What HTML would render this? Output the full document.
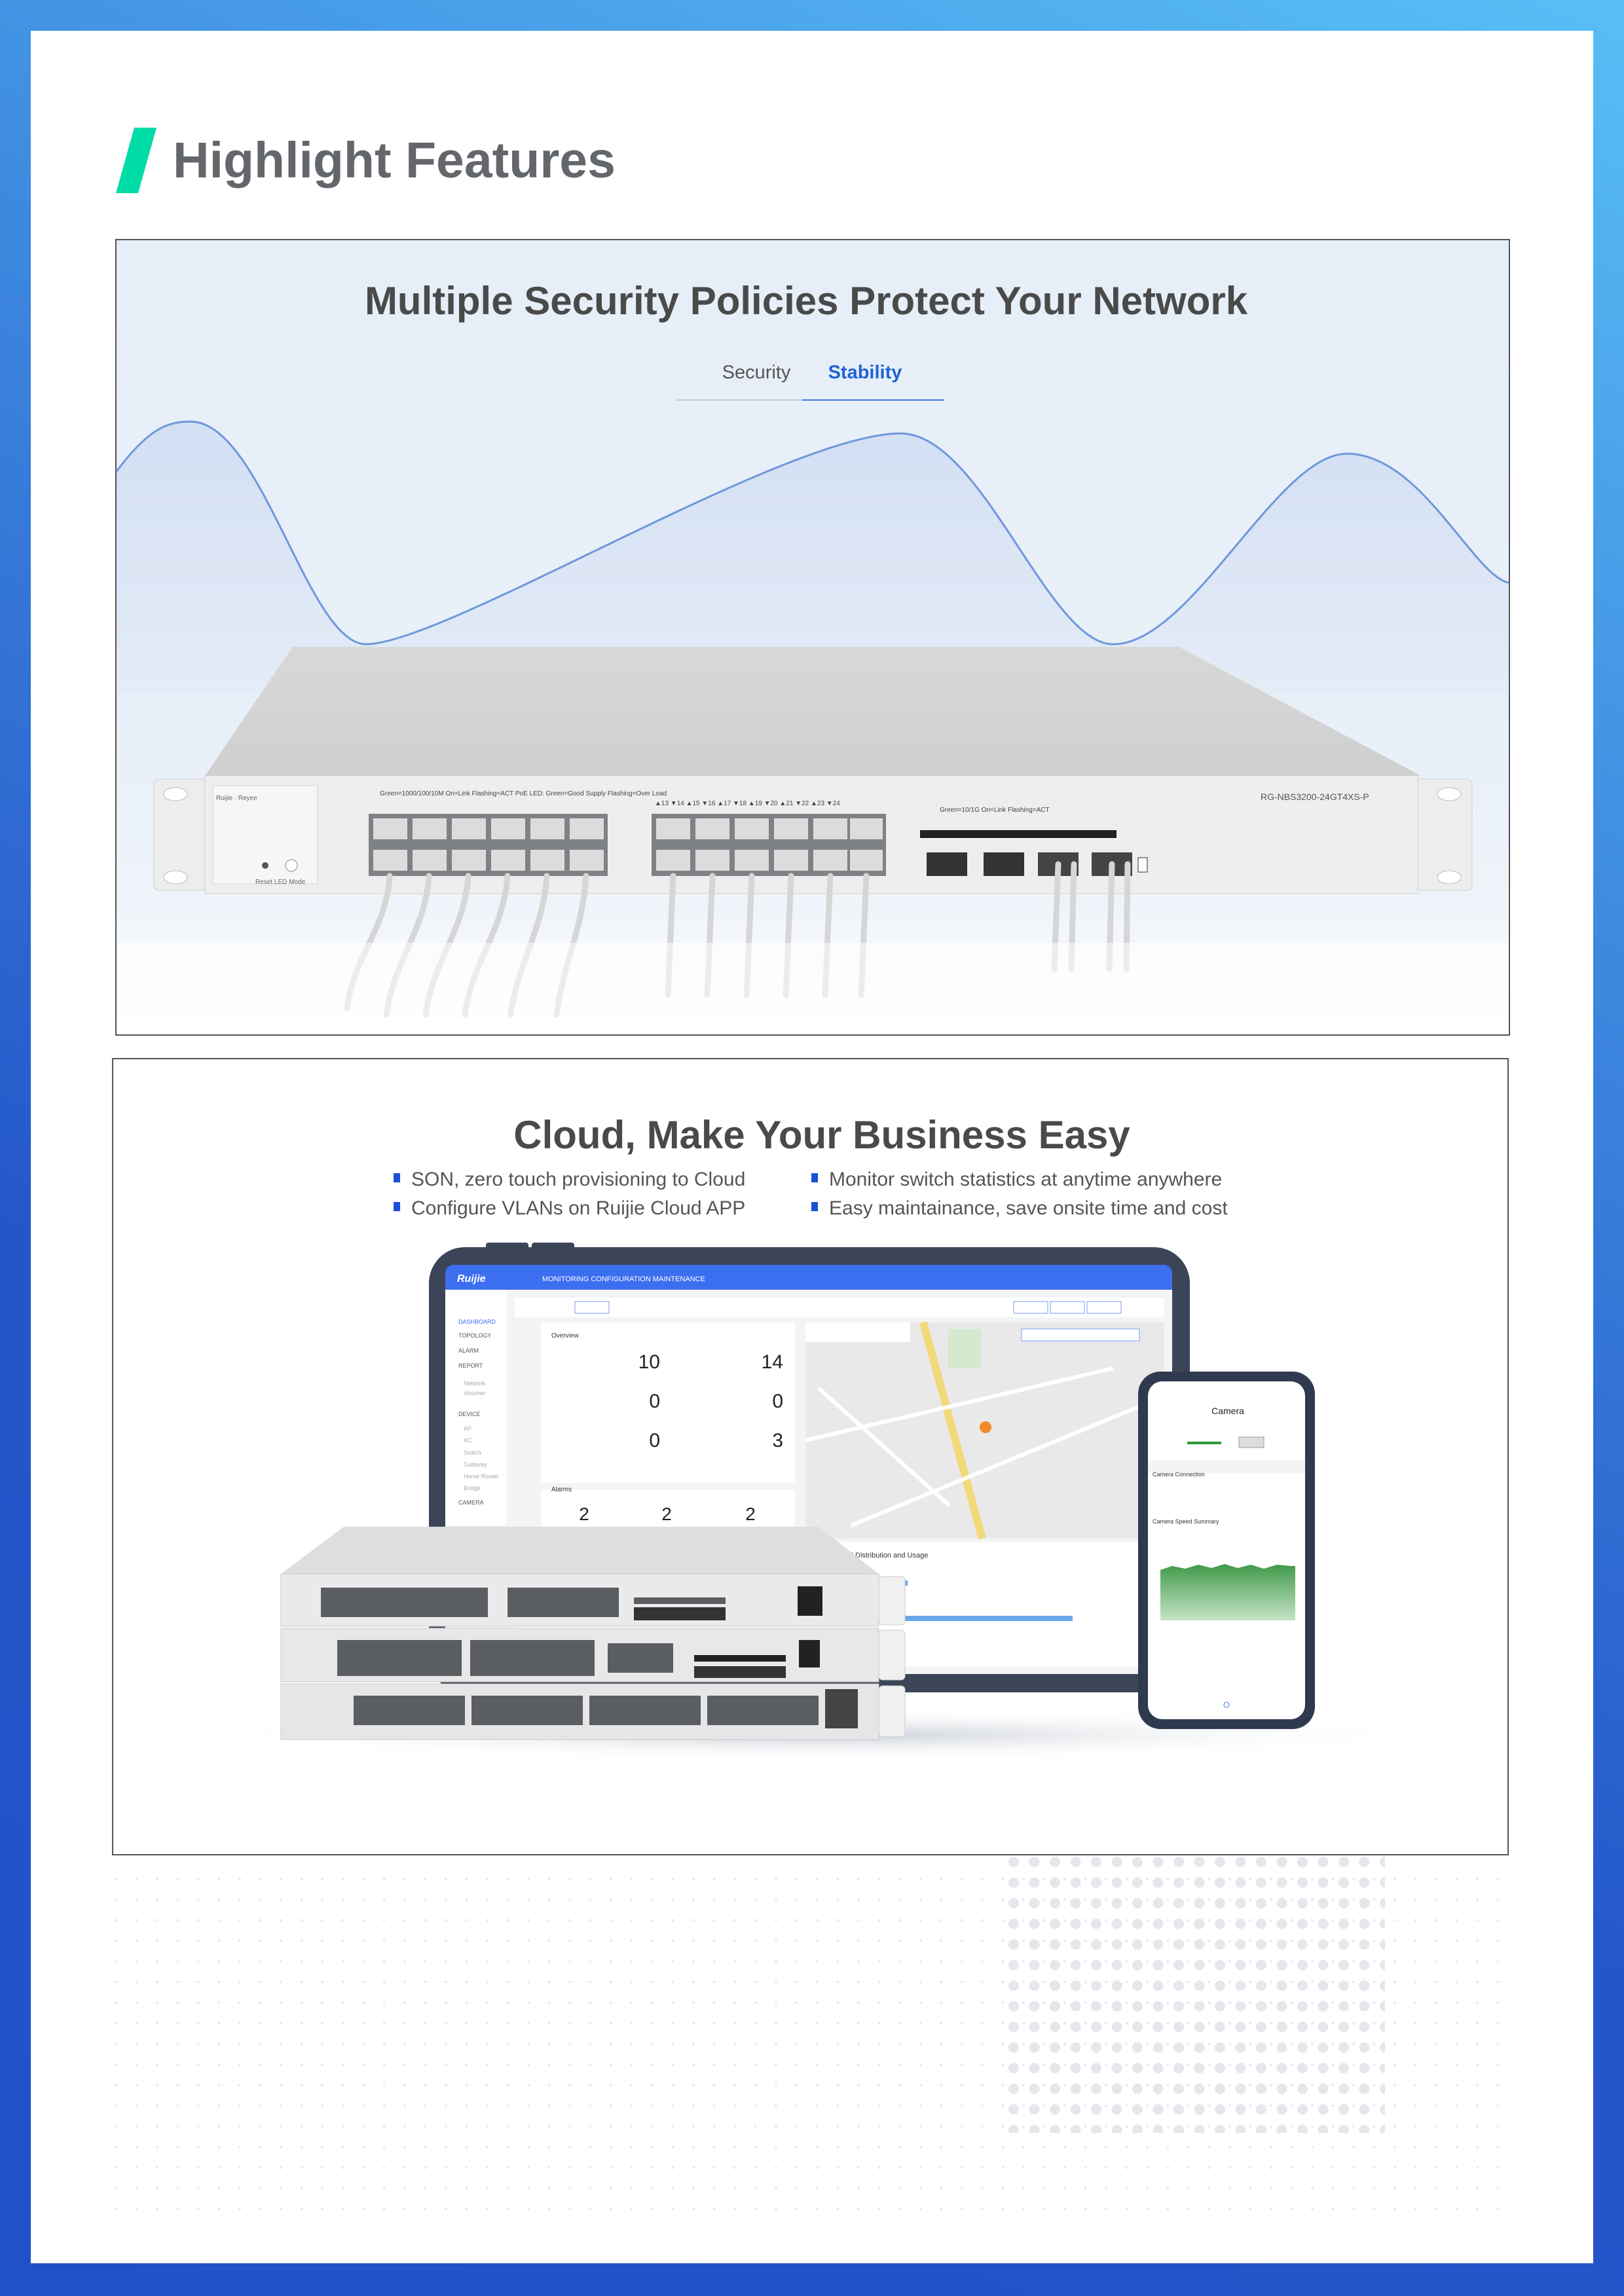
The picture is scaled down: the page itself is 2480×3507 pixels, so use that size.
<!DOCTYPE html>
<html><head><meta charset="utf-8">
<style>
html,body{margin:0;padding:0;}
body{width:2480px;height:3507px;position:relative;overflow:hidden;font-family:"Liberation Sans",sans-serif;
background:linear-gradient(205deg,#58bff6 0%,#3f8be0 30%,#2456c9 65%,#2250c8 100%);}
.inner{position:absolute;left:47px;top:47px;width:2386px;height:3410px;background:#fff;}
svg{position:absolute;left:0;top:0;}
</style></head><body>
<div class="inner"></div>
<svg width="2480" height="3507" viewBox="0 0 2480 3507" xmlns="http://www.w3.org/2000/svg">
<defs>
<linearGradient id="p1bg" x1="0" y1="0" x2="0" y2="1">
<stop offset="0" stop-color="#e6eef8"/><stop offset="0.6" stop-color="#e9f0f8"/><stop offset="0.78" stop-color="#f4f7fb"/><stop offset="1" stop-color="#ffffff"/></linearGradient>
<linearGradient id="wave" x1="0" y1="0" x2="0" y2="1">
<stop offset="0" stop-color="#cfdcf2"/><stop offset="1" stop-color="#e3ebf7"/></linearGradient>
<linearGradient id="top" x1="0" y1="0" x2="0" y2="1">
<stop offset="0" stop-color="#d8d8d8"/><stop offset="1" stop-color="#cfcfcf"/></linearGradient>
<linearGradient id="green" x1="0" y1="0" x2="0" y2="1">
<stop offset="0" stop-color="#3f9a4a"/><stop offset="1" stop-color="#c7e4c6"/></linearGradient>
<radialGradient id="shadow" cx="0.5" cy="0.5" r="0.5"><stop offset="0" stop-color="#c9ced6"/><stop offset="1" stop-color="#ffffff" stop-opacity="0"/></radialGradient>
<pattern id="sdots" x="175" y="2868" width="31.5" height="31.5" patternUnits="userSpaceOnUse"><circle cx="2" cy="2" r="1.8" fill="#e3e6ea"/></pattern>
<pattern id="bdots" x="1540" y="2836" width="31.5" height="31.5" patternUnits="userSpaceOnUse"><circle cx="8" cy="8" r="8" fill="#e4e7ec"/></pattern>
</defs>

<!-- header -->
<polygon points="205,195 239,195 211,295 177,295" fill="#00dca6"/>
<text x="264" y="271" font-size="77" font-weight="bold" fill="#63676b">Highlight Features</text>

<!-- Panel 1 -->
<rect x="177" y="366" width="2128" height="1215" fill="url(#p1bg)" stroke="#555" stroke-width="2"/>
<text x="1231" y="480" font-size="60" font-weight="bold" fill="#4a4a4a" text-anchor="middle">Multiple Security Policies Protect Your Network</text>
<text x="1155" y="578" font-size="29" fill="#555" text-anchor="middle">Security</text>
<text x="1321" y="578" font-size="29" font-weight="bold" fill="#1e63d6" text-anchor="middle">Stability</text>
<line x1="1033" y1="611" x2="1442" y2="611" stroke="#c8ccd2" stroke-width="2"/>
<line x1="1225" y1="611" x2="1442" y2="611" stroke="#3d7be0" stroke-width="2"/>
<path d="M178,720 C230,650 260,644 291,644 C400,644 470,984 559,984 C680,984 1200,662 1375,662 C1500,662 1600,984 1700,984 C1820,984 1950,693 2057,693 C2170,693 2250,880 2304,890 L2304,1060 L178,1060 Z" fill="url(#wave)" opacity="0.85"/>
<path d="M178,720 C230,650 260,644 291,644 C400,644 470,984 559,984 C680,984 1200,662 1375,662 C1500,662 1600,984 1700,984 C1820,984 1950,693 2057,693 C2170,693 2250,880 2304,890" fill="none" stroke="#6f97dc" stroke-width="3"/>
<rect x="178" y="1060" width="2126" height="520" fill="url(#p1bg)" opacity="0.6"/>

<!-- switch 1 -->
<polygon points="447,988 1800,988 2170,1185 313,1185" fill="url(#top)"/>
<rect x="235" y="1190" width="80" height="170" rx="8" fill="#ededed" stroke="#cfcfcf"/>
<rect x="2163" y="1190" width="85" height="170" rx="8" fill="#ededed" stroke="#cfcfcf"/>
<ellipse cx="268" cy="1213" rx="18" ry="10" fill="#fff" stroke="#bbb"/>
<ellipse cx="268" cy="1340" rx="18" ry="10" fill="#fff" stroke="#bbb"/>
<ellipse cx="2213" cy="1213" rx="18" ry="10" fill="#fff" stroke="#bbb"/>
<ellipse cx="2213" cy="1340" rx="18" ry="10" fill="#fff" stroke="#bbb"/>
<rect x="313" y="1185" width="1852" height="180" fill="#eeeeee" stroke="#d0d0d0"/>
<rect x="325" y="1200" width="160" height="150" fill="#f6f6f6" stroke="#d5d5d5"/>
<text x="330" y="1222" font-size="10" fill="#666">Ruijie · Reyee</text>
<text x="390" y="1350" font-size="10" fill="#666">Reset  LED Mode</text>
<circle cx="405" cy="1322" r="5" fill="#555"/><circle cx="445" cy="1322" r="9" fill="#fff" stroke="#888"/>
<text x="580" y="1215" font-size="10" fill="#444">Green=1000/100/10M  On=Link  Flashing=ACT   PoE LED: Green=Good Supply  Flashing=Over Load</text>
<text x="1000" y="1230" font-size="10" fill="#444">▲13 ▼14 ▲15 ▼16 ▲17 ▼18 ▲19 ▼20 ▲21 ▼22 ▲23 ▼24</text>
<text x="1925" y="1222" font-size="14" fill="#555">RG-NBS3200-24GT4XS-P</text>
<text x="1435" y="1240" font-size="10" fill="#444">Green=10/1G  On=Link  Flashing=ACT</text>
<g fill="#7e8286">
<rect x="563" y="1243" width="365" height="95"/>
<rect x="995" y="1243" width="358" height="95"/>
</g>
<g fill="#dcdcdc">
<rect x="570" y="1250" width="52" height="32"/><rect x="630" y="1250" width="52" height="32"/><rect x="690" y="1250" width="52" height="32"/><rect x="750" y="1250" width="52" height="32"/><rect x="810" y="1250" width="52" height="32"/><rect x="870" y="1250" width="52" height="32"/>
<rect x="570" y="1298" width="52" height="32"/><rect x="630" y="1298" width="52" height="32"/><rect x="690" y="1298" width="52" height="32"/><rect x="750" y="1298" width="52" height="32"/><rect x="810" y="1298" width="52" height="32"/><rect x="870" y="1298" width="52" height="32"/>
<rect x="1002" y="1250" width="52" height="32"/><rect x="1062" y="1250" width="52" height="32"/><rect x="1122" y="1250" width="52" height="32"/><rect x="1182" y="1250" width="52" height="32"/><rect x="1242" y="1250" width="52" height="32"/><rect x="1298" y="1250" width="50" height="32"/>
<rect x="1002" y="1298" width="52" height="32"/><rect x="1062" y="1298" width="52" height="32"/><rect x="1122" y="1298" width="52" height="32"/><rect x="1182" y="1298" width="52" height="32"/><rect x="1242" y="1298" width="52" height="32"/><rect x="1298" y="1298" width="50" height="32"/>
</g>
<rect x="1405" y="1268" width="300" height="12" fill="#222"/>
<rect x="1415" y="1302" width="62" height="36" fill="#333"/><rect x="1502" y="1302" width="62" height="36" fill="#333"/>
<rect x="1585" y="1302" width="62" height="36" fill="#444"/><rect x="1667" y="1302" width="62" height="36" fill="#444"/>
<rect x="1738" y="1310" width="14" height="22" fill="#fff" stroke="#333"/>
<g stroke="#d6d6d6" stroke-width="9" fill="none" stroke-linecap="round">
<path d="M595,1338 C590,1420 540,1460 530,1540"/><path d="M655,1338 C650,1420 600,1470 590,1550"/><path d="M715,1338 C710,1420 660,1470 650,1550"/><path d="M775,1338 C770,1420 720,1470 710,1550"/><path d="M835,1338 C830,1420 790,1470 780,1550"/><path d="M895,1338 C890,1420 860,1470 850,1550"/>
<path d="M1028,1338 L1020,1520"/><path d="M1088,1338 L1080,1520"/><path d="M1148,1338 L1140,1520"/><path d="M1208,1338 L1200,1520"/><path d="M1268,1338 L1260,1520"/><path d="M1323,1338 L1315,1520"/>
<path d="M1616,1320 L1610,1480"/><path d="M1640,1320 L1636,1480"/><path d="M1698,1320 L1694,1480"/><path d="M1722,1320 L1720,1480"/>
</g>
<rect x="178" y="1440" width="2126" height="140" fill="#fff" opacity="0.55"/>

<!-- Panel 2 -->
<rect x="172" y="1617" width="2131" height="1216" fill="#fff" stroke="#555" stroke-width="2"/>
<text x="1255" y="1754" font-size="60" font-weight="bold" fill="#4a4a4a" text-anchor="middle">Cloud, Make Your Business Easy</text>
<rect x="601" y="1792" width="10" height="14" fill="#1a4fd6"/>
<rect x="1239" y="1792" width="10" height="14" fill="#1a4fd6"/>
<rect x="601" y="1836" width="10" height="14" fill="#1a4fd6"/>
<rect x="1239" y="1836" width="10" height="14" fill="#1a4fd6"/>
<g font-size="30" fill="#555">
<text x="628" y="1811">SON, zero touch provisioning to Cloud</text>
<text x="1266" y="1811">Monitor switch statistics at anytime anywhere</text>
<text x="628" y="1855">Configure VLANs on Ruijie Cloud APP</text>
<text x="1266" y="1855">Easy maintainance, save onsite time and cost</text>
</g>

<ellipse cx="1250" cy="2650" rx="950" ry="40" fill="url(#shadow)"/>
<!-- tablet -->
<rect x="742" y="1898" width="65" height="14" rx="4" fill="#3b4557"/><rect x="812" y="1898" width="65" height="14" rx="4" fill="#3b4557"/>
<rect x="655" y="1905" width="1162" height="680" rx="55" fill="#3b4557"/>
<rect x="680" y="1932" width="1110" height="625" rx="14" fill="#f3f4f6"/>
<path d="M694,1932 L1776,1932 Q1790,1932 1790,1946 L1790,1970 L680,1970 L680,1946 Q680,1932 694,1932 Z" fill="#3c6ef0"/>
<text x="698" y="1958" font-size="16" font-weight="bold" font-style="italic" fill="#fff">Ruijie</text>
<text x="828" y="1957" font-size="11" fill="#fff">MONITORING    CONFIGURATION    MAINTENANCE</text>
<rect x="680" y="1970" width="93" height="360" fill="#fff"/>
<g font-size="9" fill="#555">
<text x="700" y="2022" fill="#3c6ef0">DASHBOARD</text><text x="700" y="2043">TOPOLOGY</text><text x="700" y="2066">ALARM</text><text x="700" y="2089">REPORT</text><text x="708" y="2116" fill="#aaa">Network</text><text x="708" y="2131" fill="#aaa">Voucher</text><text x="700" y="2163">DEVICE</text><text x="708" y="2185" fill="#aaa">AP</text><text x="708" y="2203" fill="#aaa">AC</text><text x="708" y="2222" fill="#aaa">Switch</text><text x="708" y="2240" fill="#aaa">Gateway</text><text x="708" y="2258" fill="#aaa">Home Router</text><text x="708" y="2276" fill="#aaa">Bridge</text><text x="700" y="2298">CAMERA</text>
</g>
<rect x="786" y="1982" width="992" height="30" fill="#fff"/>
<rect x="878" y="1988" width="52" height="18" fill="#fff" stroke="#7b9cf0"/>
<rect x="1548" y="1988" width="52" height="18" fill="#fff" stroke="#7b9cf0"/><rect x="1604" y="1988" width="52" height="18" fill="#fff" stroke="#7b9cf0"/><rect x="1660" y="1988" width="52" height="18" fill="#fff" stroke="#7b9cf0"/>
<rect x="826" y="2020" width="388" height="245" fill="#fff"/>
<rect x="826" y="2275" width="388" height="60" fill="#fff"/>
<g font-size="10" fill="#333"><text x="842" y="2043">Overview</text><text x="842" y="2278">Alarms</text><text x="1243" y="2043">Registered Device Distribution</text></g>
<g font-size="30" fill="#222" text-anchor="end"><text x="1008" y="2090">10</text><text x="1196" y="2090">14</text><text x="1008" y="2150">0</text><text x="1196" y="2150">0</text><text x="1008" y="2210">0</text><text x="1196" y="2210">3</text></g>
<g font-size="28" fill="#222" text-anchor="middle"><text x="892" y="2322">2</text><text x="1018" y="2322">2</text><text x="1146" y="2322">2</text></g>
<rect x="1230" y="2020" width="548" height="330" fill="#e9e9ea"/>
<path d="M1410,2020 L1500,2350" stroke="#f2d97a" stroke-width="12" fill="none"/>
<path d="M1230,2200 L1700,2090 M1300,2330 L1760,2140 M1250,2120 L1450,2300" stroke="#fff" stroke-width="6" fill="none"/>
<rect x="1448" y="2030" width="50" height="60" fill="#cfe8c8" opacity="0.8"/>
<circle cx="1505" cy="2180" r="9" fill="#f08a2a"/>
<rect x="1230" y="2020" width="160" height="30" fill="#fff"/>
<rect x="1560" y="2030" width="180" height="18" fill="#fff" stroke="#7b9cf0"/>
<rect x="786" y="2355" width="980" height="190" fill="#fff"/>
<text x="1262" y="2379" font-size="11" fill="#333">Channel Distribution and Usage</text>
<rect x="1338" y="2414" width="48" height="8" fill="#6aa8ec"/>
<rect x="1338" y="2468" width="300" height="8" fill="#6aa8ec"/>
<!-- phone -->
<rect x="1738" y="2095" width="270" height="546" rx="34" fill="#303a4e"/>
<rect x="1753" y="2110" width="240" height="516" rx="22" fill="#fff"/>
<rect x="1753" y="2230" width="240" height="20" fill="#f3f4f6"/>
<text x="1875" y="2160" font-size="14" fill="#222" text-anchor="middle">Camera</text>
<line x1="1813" y1="2204" x2="1865" y2="2204" stroke="#2c9a3a" stroke-width="4"/>
<rect x="1892" y="2195" width="38" height="16" fill="#ddd" stroke="#999"/>
<text x="1760" y="2255" font-size="9" fill="#333">Camera Connection</text>
<text x="1760" y="2327" font-size="9" fill="#333">Camera Speed Summary</text>
<path d="M1772,2398 L1790,2392 L1810,2396 L1830,2390 L1850,2395 L1870,2389 L1890,2395 L1910,2390 L1930,2396 L1950,2390 L1972,2392 L1978,2392 L1978,2475 L1772,2475 Z" fill="url(#green)"/>
<circle cx="1873" cy="2604" r="4" fill="none" stroke="#3c6ef0"/>
<!-- switch stack -->
<polygon points="525,2332 1250,2332 1342,2404 429,2404" fill="#dedede"/>
<rect x="429" y="2404" width="913" height="80" fill="#eaeaea" stroke="#c8c8c8"/>
<rect x="429" y="2487" width="913" height="82" fill="#e8e8e8" stroke="#c8c8c8"/>
<rect x="429" y="2572" width="913" height="85" fill="#e6e6e6" stroke="#c8c8c8"/>
<g fill="#5a5d62">
<rect x="490" y="2425" width="255" height="45"/><rect x="775" y="2425" width="170" height="45"/><rect x="968" y="2440" width="140" height="10"/>
<rect x="968" y="2455" width="140" height="20" fill="#333"/>
<rect x="1218" y="2423" width="38" height="45" fill="#222"/>
<rect x="515" y="2505" width="190" height="55"/><rect x="718" y="2505" width="190" height="55"/><rect x="928" y="2510" width="100" height="45"/>
<rect x="1060" y="2528" width="140" height="10" fill="#222"/><rect x="1060" y="2545" width="140" height="18" fill="#333"/>
<rect x="1220" y="2505" width="32" height="42" fill="#222"/>
<rect x="540" y="2590" width="170" height="45"/><rect x="720" y="2590" width="170" height="45"/><rect x="900" y="2590" width="170" height="45"/><rect x="1080" y="2590" width="170" height="45"/>
<rect x="1260" y="2580" width="50" height="60" fill="#444"/>
</g>
<g fill="#f0f0f0">
<rect x="1342" y="2408" width="40" height="74" rx="6" stroke="#ccc"/>
<rect x="1342" y="2490" width="40" height="76" rx="6" stroke="#ccc"/>
<rect x="1342" y="2575" width="40" height="78" rx="6" stroke="#ccc"/>
</g>

<!-- dots -->
<rect x="175" y="2866" width="2130" height="510" fill="url(#sdots)"/>
<rect x="1535" y="2833" width="580" height="425" fill="url(#bdots)"/>
</svg>
</body></html>
